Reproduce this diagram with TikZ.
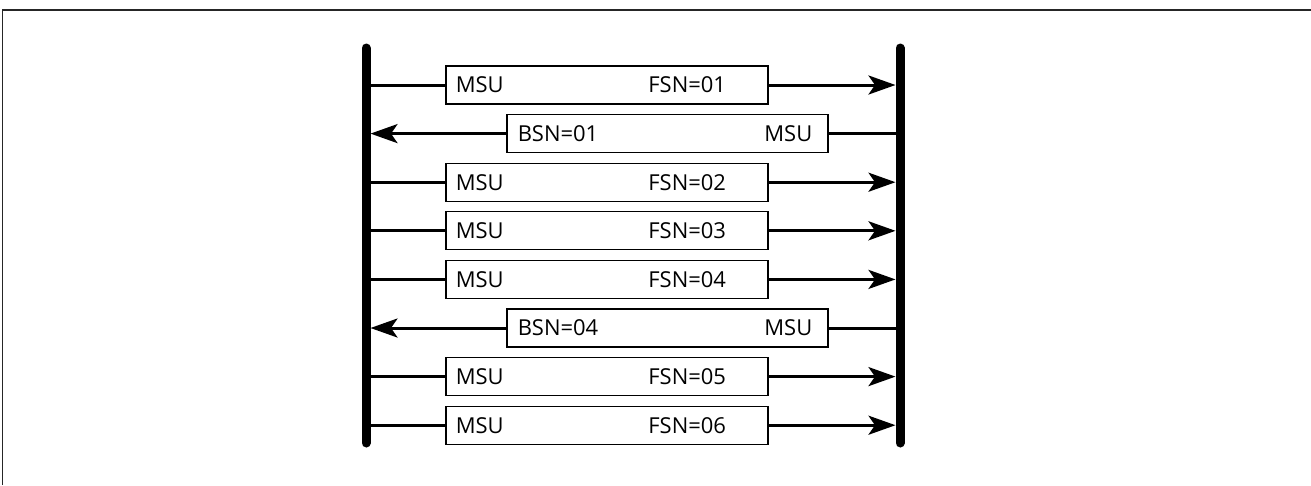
\documentclass[tikz,border=0pt]{standalone}
\usepackage{fontspec}
\setmainfont{Open Sans}
\usetikzlibrary{arrows.meta,positioning}

\begin{document}
\begin{tikzpicture}[x=0.02cm, y=-0.02cm,
  bar/.style={line width=0.18cm, line cap=round},
  frame/.style={line width=0.03cm, draw=black!85},
  msg/.style={draw, line width=0.025cm, fill=white, minimum height=0.76cm,
              inner sep=0pt, font=\fontsize{12.5}{14}\selectfont},
  fwd/.style={msg, minimum width=6.44cm},
  bwd/.style={msg, minimum width=6.42cm},
  lbl/.style={inner sep=0pt, font=\fontsize{12.5}{14}\selectfont},
  arr/.style={line width=0.06cm, -{Stealth[length=0.54cm, width=0.38cm, inset=0.13cm]}},
  lne/.style={line width=0.06cm}
]
\useasboundingbox (0,0) rectangle (1311,485);

% clipped frame
\draw[frame] (2.5,485) -- (2.5,10) -- (1311,10);

% the two links
\coordinate (atop) at (366,48);
\coordinate (abot) at (366,443);
\coordinate (btop) at (900,48);
\coordinate (bbot) at (900,443);
\draw[bar] (atop) -- (abot);
\draw[bar] (btop) -- (bbot);

% forward messages
\foreach \r/\n in {1/01,3/02,4/03,5/04,7/05,8/06} {
  \coordinate (l\r) at (370.5,{85+48.6*(\r-1)});
  \coordinate (r\r) at (895.5,{85+48.6*(\r-1)});
  \node[fwd] (m\r) at (607,{85+48.6*(\r-1)}) {};
  \node[lbl, anchor=west] (s\r) at ([xshift=0.2cm]m\r.west) {MSU};
  \node[lbl, anchor=west] (f\r) at (648,{85+48.6*(\r-1)}) {FSN=\n};
  \draw[lne] (l\r) -- (m\r);
  \draw[arr] (m\r) -- (r\r);
}

% backward messages
\foreach \r/\n in {2/01,6/04} {
  \coordinate (l\r) at (370.5,{85+48.6*(\r-1)});
  \coordinate (r\r) at (895.5,{85+48.6*(\r-1)});
  \node[bwd] (m\r) at (667.5,{85+48.6*(\r-1)}) {};
  \node[lbl, anchor=west] (f\r) at ([xshift=0.22cm]m\r.west) {BSN=\n};
  \node[lbl, anchor=east] (s\r) at ([xshift=-0.32cm]m\r.east) {MSU};
  \draw[lne] (r\r) -- (m\r);
  \draw[arr] (m\r) -- (l\r);
}
\end{tikzpicture}
\end{document}
